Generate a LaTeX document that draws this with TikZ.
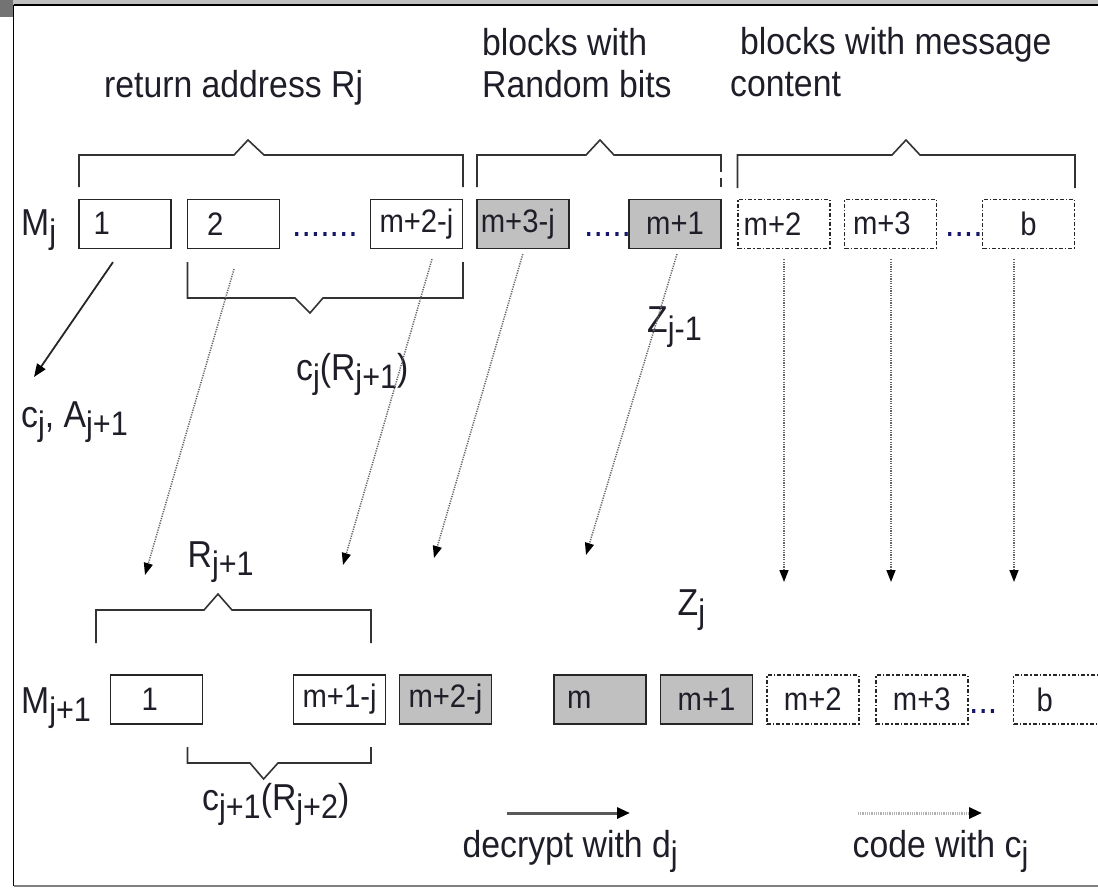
\documentclass[tikz,border=0pt]{standalone}
\usepackage{fontspec}
\setmainfont{Liberation Sans}[FakeStretch=0.9]
\usetikzlibrary{arrows.meta}
\definecolor{boxgray}{RGB}{192,192,192}
\definecolor{ink}{RGB}{30,30,40}
\newcommand\lbl{\fontsize{37.5}{42}\selectfont}
\newcommand\bxf{\fontsize{32.5}{36}\selectfont}
\newcommand\lowr[1]{\raisebox{-0.22em}{\fontsize{34}{34}\selectfont #1}}
\tikzset{
  blk/.style={draw=black!85, line width=1.6pt, minimum width=92pt, minimum height=49pt, inner sep=0pt, font=\bxf, text=ink},
  grayblk/.style={blk, fill=boxgray},
  dashblk/.style={blk, dash pattern=on 4pt off 2pt on 1.5pt off 2pt},
  lefttxt/.style={text width=#1, align=left},
  brace/.style={draw=black!80, line width=1.6pt},
  lab/.style={font=\lbl, text=ink, inner sep=0pt, anchor=base west},
  dots/.style={font=\lbl, text=ink!70!blue, inner sep=0pt, anchor=base west},
  solidarrow/.style={draw=black!85, line width=1.8pt, -{Triangle[length=13pt,width=10pt,color=black]}},
  dotarrow/.style={draw=black!60, line width=1.5pt, dash pattern=on 1.2pt off 1.2pt, -{Triangle[length=12pt,width=9pt,color=black]}}
}
\begin{document}
\begin{tikzpicture}[x=1pt,y=-1pt]
\useasboundingbox (0,0) rectangle (1098,888);
% frame
\fill[black!25] (0,0) rectangle (1098,5);
\fill[black!55] (0,0) rectangle (12.5,17);
\draw[line width=1.5pt] (13.5,5) -- (1098,5);
\draw[line width=1.5pt] (13.5,5) -- (13.5,886);
\draw[black!50, line width=1.5pt] (13.5,886) -- (1098,886);

% headings
\node[lab] (hret) at (104,98) {return address Rj};
\node[lab, align=left, anchor=north west] (hrnd) at (482,28) {blocks with\\Random bits};
\node[lab] (hmsg1) at (740,55) {blocks with message};
\node[lab] (hmsg2) at (730,97) {content};

% top braces
\draw[brace] (79,187) -- (79,155) -- (234,155) -- (248,140) -- (264,155) -- (463,155) -- (463,187);
\draw[brace] (477,187) -- (477,155) -- (586,155) -- (600,140) -- (614,155) -- (721,155) -- (721,172);
\draw[brace] (721,178) -- (721,187);
\draw[brace] (737.5,188) -- (737.5,155) -- (892,155) -- (906,140) -- (920,155) -- (1075,155) -- (1075,188);

% row 1
\node[lab] (mj) at (21,235) {M\lowr{j}};
\node[blk, lefttxt=63pt] (a1) at (125,223.8) {1};
\node[blk, lefttxt=53pt] (a2) at (233.5,223.8) {2};
\node[dots] (dA) at (292,236) {.......};
\node[blk] (a3) at (416.5,223.8) {m+2-j};
\node[grayblk, lefttxt=84pt] (a4) at (522.8,223.8) {m+3-j};
\node[dots] (dB) at (584,236) {.....};
\node[grayblk] (a5) at (675,223.8) {m+1};
\node[dashblk, lefttxt=80pt] (a6) at (783.7,223.8) {m+2};
\node[dashblk, lefttxt=75pt] (a7) at (890.5,223.8) {m+3};
\node[dots] (dC) at (945,236) {....};
\node[dashblk] (a8) at (1028.5,223.8) {b};

% brace under row 1
\draw[brace] (187.5,262) -- (187.5,298) -- (295,298) -- (310,313) -- (323,298) -- (463,298) -- (463,262);
\node[lab] (cjr) at (296,380) {c\lowr{j}(R\lowr{j+1})};
\node[lab] (zj1) at (647,332) {Z\lowr{j-1}};
\node[lab] (cja) at (21,427) {c\lowr{j}, A\lowr{j+1}};

% arrows from row 1
\coordinate (t0) at (34,377);
\coordinate (t1) at (145,575);
\coordinate (t2) at (343,565);
\coordinate (t3) at (434,558);
\coordinate (t4) at (586,555);
\coordinate (t5) at (784,582);
\coordinate (t6) at (891,582);
\coordinate (t7) at (1014,582);
\draw[solidarrow] ([xshift=-12pt,yshift=-13pt]a1.south) -- (t0);
\draw[dotarrow] ([xshift=0.5pt,yshift=-20pt]a2.south) -- (t1);
\draw[dotarrow] ([xshift=15.5pt,yshift=-10pt]a3.south) -- (t2);
\draw[dotarrow] ([xshift=0pt,yshift=-5pt]a4.south) -- (t3);
\draw[dotarrow] ([xshift=2pt,yshift=-5pt]a5.south) -- (t4);
\draw[dotarrow] ([xshift=0.3pt,yshift=-10pt]a6.south) -- (t5);
\draw[dotarrow] ([xshift=0.5pt,yshift=-10pt]a7.south) -- (t6);
\draw[dotarrow] ([xshift=-14.5pt,yshift=-10pt]a8.south) -- (t7);

% second part
\node[lab] (rj1) at (187.5,567) {R\lowr{j+1}};
\node[lab] (zj) at (677.5,615) {Z\lowr{j}};
\draw[brace] (96,643) -- (96,610) -- (204,610) -- (218,594) -- (232,610) -- (371,610) -- (371,643);

% row 2
\node[lab] (mj1) at (21,713) {M\lowr{j+1}};
\node[blk, lefttxt=30pt] (b1) at (156.5,699.5) {1};
\node[blk] (b2) at (339.6,699.5) {m+1-j};
\node[grayblk] (b3) at (445.5,699.5) {m+2-j};
\node[grayblk, lefttxt=66pt] (b4) at (600,699.5) {m};
\node[grayblk] (b5) at (706.6,699.5) {m+1};
\node[dashblk] (b6) at (812.8,699.5) {m+2};
\node[dashblk] (b7) at (921.8,699.5) {m+3};
\node[dots] (dD) at (969,713) {...};
\node[dashblk, lefttxt=46pt] (b8) at (1059.5,699.5) {b};

\draw[brace] (187.5,747) -- (187.5,763) -- (250,763) -- (263.6,779) -- (278,763) -- (371,763) -- (371,747);
\node[lab] (cj1) at (202,810) {c\lowr{j+1}(R\lowr{j+2})};

% legend
\coordinate (ls1) at (507,813);
\coordinate (le1) at (630,813);
\coordinate (ls2) at (858,813);
\coordinate (le2) at (982,813);
\draw[draw=black!65, line width=3pt, -{Triangle[length=13pt,width=11pt,color=black]}] (ls1) -- (le1);
\draw[draw=black!30, line width=3pt, dash pattern=on 1pt off 0.8pt, -{Triangle[length=13pt,width=11pt,color=black]}] (ls2) -- (le2);
\node[lab] (ldec) at (462.5,857) {decrypt with d\lowr{j}};
\node[lab] (lcod) at (852.5,857) {code with c\lowr{j}};
\end{tikzpicture}
\end{document}
